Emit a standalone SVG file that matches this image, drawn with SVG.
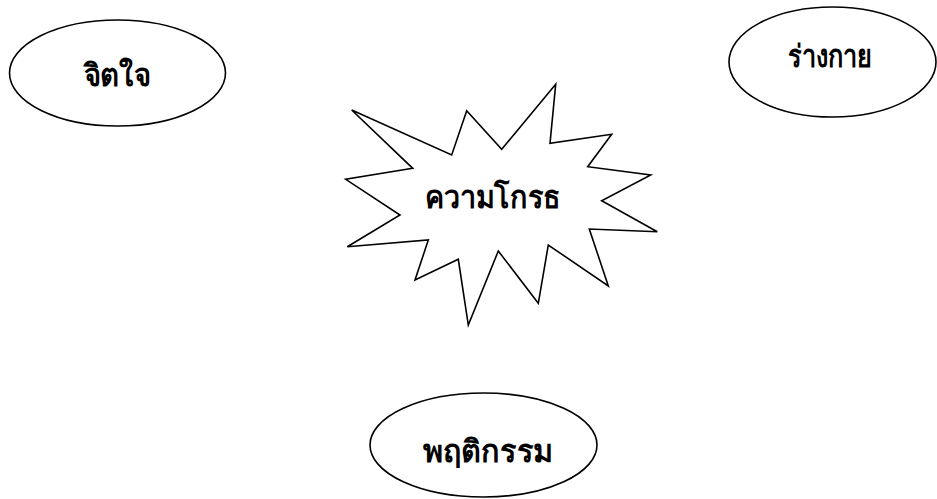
<svg xmlns="http://www.w3.org/2000/svg" width="937" height="499" viewBox="0 0 937 499">
<style>
.shape{fill:#fff;stroke:#000;stroke-width:1.6}
.lbl{font-family:"Liberation Serif","DejaVu Serif",serif;font-weight:bold;font-size:31px;fill:#000;text-anchor:middle}
</style>
<rect width="937" height="499" fill="#fff"/>
<g id="connectors"></g>
<g id="node-mind">
<ellipse class="shape" cx="117.5" cy="73" rx="108" ry="53"/>
<text class="lbl" x="117" y="86" textLength="67" lengthAdjust="spacingAndGlyphs">จิตใจ</text>
</g>
<g id="node-body">
<ellipse class="shape" cx="832.5" cy="62" rx="103.5" ry="55"/>
<text class="lbl" x="830" y="67" textLength="84" lengthAdjust="spacingAndGlyphs">ร่างกาย</text>
</g>
<g id="node-anger">
<polygon class="shape" points="351.7,110 451.7,155 466.7,110.7 501.7,149.3 555.7,84.3 550,143.3 611.7,134.3 587.7,166.7 650.7,175 601.7,200.7 657.3,231.7 589.3,229 608.3,286 548.3,245 538.3,303.3 498.3,251 468.3,325 458.3,259.3 415,280 428.3,240 347.3,246.7 400,215 345.7,179.3 412.7,168.3"/>
<text class="lbl" x="493" y="208" textLength="136" lengthAdjust="spacingAndGlyphs">ความโกรธ</text>
</g>
<g id="node-behavior">
<ellipse class="shape" cx="483.5" cy="445" rx="113.5" ry="52"/>
<text class="lbl" x="488" y="462" textLength="130" lengthAdjust="spacingAndGlyphs">พฤติกรรม</text>
</g>
</svg>
